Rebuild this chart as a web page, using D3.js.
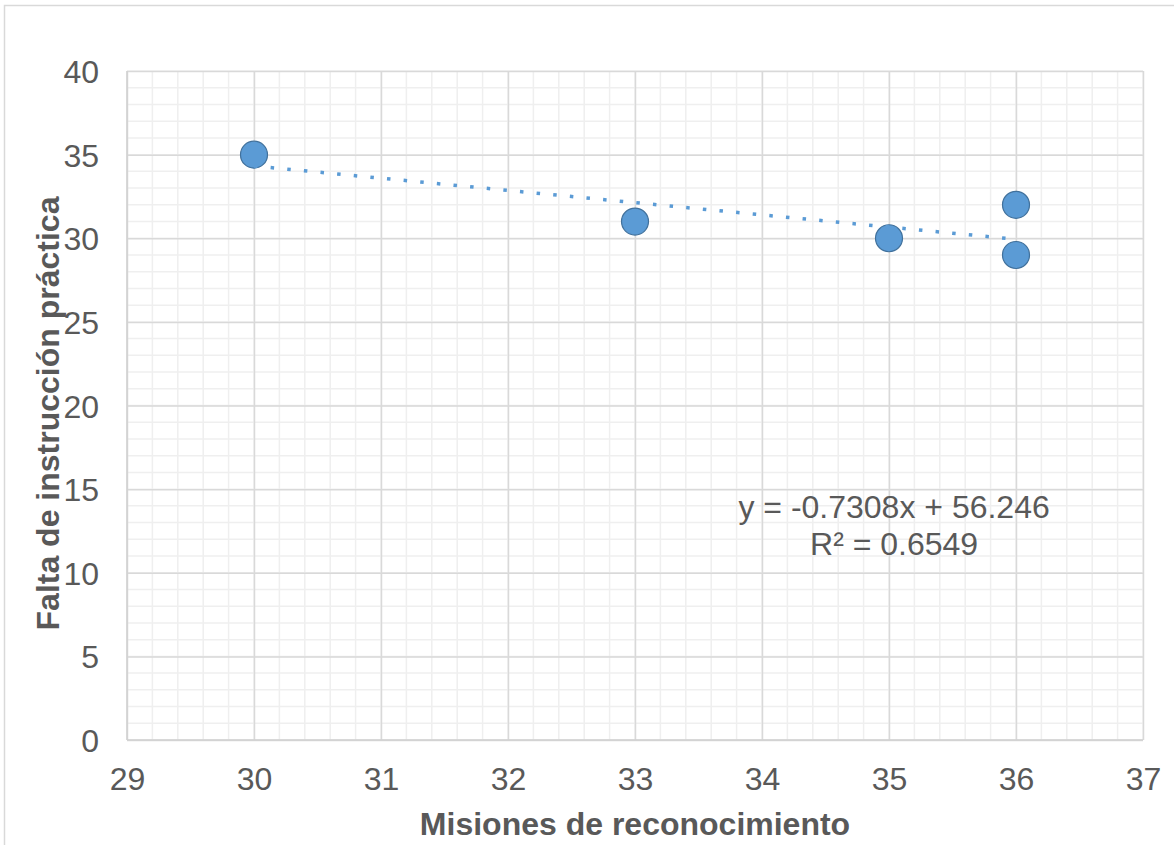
<!DOCTYPE html>
<html>
<head>
<meta charset="utf-8">
<script src="https://cdn.jsdelivr.net/npm/d3@7"></script>
<style>
  body { margin: 0; background: #fff; }
  text { font-family: "Liberation Sans", Arial, sans-serif; fill: #595959; }
</style>
</head>
<body>
<div id="chart"></div>
<script>

// data
var misiones = [30, 33, 35, 36, 36];
var falta = [35, 31, 30, 32, 29];
var xTicks = [29, 30, 31, 32, 33, 34, 35, 36, 37];
var yTicks = [0, 5, 10, 15, 20, 25, 30, 35, 40];
var trendSlope = -0.7308, trendIntercept = 56.246;
var trendLabel = ["y = -0.7308x + 56.246", "R² = 0.6549"];

var margin = { top: 71, right: 31, bottom: 105, left: 127 };
var width = 1174 - margin.left - margin.right;
var height = 845 - margin.top - margin.bottom;

var svg = d3.select("#chart").append("svg")
  .attr("width", 1174)
  .attr("height", 845);

// outer chart border
svg.append("rect")
  .attr("x", 4.5).attr("y", 5.5)
  .attr("width", 1180).attr("height", 860)
  .attr("fill", "none")
  .attr("stroke", "#d9d9d9")
  .attr("stroke-width", 1.5);

var g = svg.append("g")
  .attr("transform", "translate(" + margin.left + "," + margin.top + ")");

var x = d3.scaleLinear().domain([29, 37]).range([0, width]);
var y = d3.scaleLinear().domain([0, 40]).range([height, 0]);

// minor grid
var xMinor = d3.range(29, 37.001, 0.2);
var yMinor = d3.range(0, 40.001, 1);
g.append("g").selectAll("line").data(xMinor).enter().append("line")
  .attr("x1", function(d) { return x(d); }).attr("x2", function(d) { return x(d); })
  .attr("y1", 0).attr("y2", height)
  .attr("stroke", "#efefef").attr("stroke-width", 1.5);
g.append("g").selectAll("line").data(yMinor).enter().append("line")
  .attr("y1", function(d) { return y(d); }).attr("y2", function(d) { return y(d); })
  .attr("x1", 0).attr("x2", width)
  .attr("stroke", "#efefef").attr("stroke-width", 1.5);

// major grid
g.append("g")
  .attr("transform", "translate(0," + height + ")")
  .call(d3.axisBottom(x).tickValues(xTicks).tickSize(-height).tickFormat(""))
  .call(function(s) { s.select(".domain").remove(); })
  .selectAll("line").attr("stroke", "#d9d9d9").attr("stroke-width", 1.5);
g.append("g")
  .call(d3.axisLeft(y).tickValues(yTicks).tickSize(-width).tickFormat(""))
  .call(function(s) { s.select(".domain").remove(); })
  .selectAll("line").attr("stroke", "#d9d9d9").attr("stroke-width", 1.5);

// axis lines
g.append("line").attr("x1", 0).attr("x2", 0).attr("y1", 0).attr("y2", height)
  .attr("stroke", "#d0d0d0").attr("stroke-width", 1.5);
g.append("line").attr("x1", 0).attr("x2", width).attr("y1", height).attr("y2", height)
  .attr("stroke", "#d0d0d0").attr("stroke-width", 1.5);

// tick labels
var xAxis = g.append("g")
  .attr("transform", "translate(0," + height + ")")
  .call(d3.axisBottom(x).tickValues(xTicks).tickSize(0).tickPadding(0));
xAxis.select(".domain").remove();
xAxis.selectAll("text")
  .attr("y", 50).attr("dy", null)
  .style("font-size", "32px").style("font-family", "Liberation Sans, Arial, sans-serif")
  .attr("fill", "#595959");

var yAxis = g.append("g")
  .call(d3.axisLeft(y).tickValues(yTicks).tickSize(0).tickPadding(28));
yAxis.select(".domain").remove();
yAxis.selectAll("text")
  .attr("dy", "0.36em")
  .style("font-size", "32px").style("font-family", "Liberation Sans, Arial, sans-serif")
  .attr("fill", "#595959");

// points
g.selectAll("circle")
  .data(misiones)
  .enter()
  .append("circle")
  .attr("cx", function(d) { return x(d); })
  .attr("cy", function(d, i) { return y(falta[i]); })
  .attr("r", 13.5)
  .attr("fill", "#5b9bd5")
  .attr("stroke", "#41719c")
  .attr("stroke-width", 1.2);

// linear trendline
var x0 = d3.min(misiones), x1 = d3.max(misiones);
g.append("line")
  .attr("x1", x(x0)).attr("y1", y(trendSlope * x0 + trendIntercept))
  .attr("x2", x(x1)).attr("y2", y(trendSlope * x1 + trendIntercept))
  .attr("stroke", "#5b9bd5")
  .attr("stroke-width", 3.5)
  .attr("stroke-dasharray", "3.5,13.2");

// equation label
g.append("text")
  .attr("x", x(35.04)).attr("y", y(13.25))
  .attr("text-anchor", "middle")
  .style("font-size", "32px")
  .selectAll("tspan").data(trendLabel).enter().append("tspan")
  .attr("x", x(35.04))
  .attr("dy", function(d, i) { return i == 0 ? 0 : 37; })
  .text(function(d) { return d; });

// axis titles
svg.append("text")
  .attr("x", margin.left + width / 2)
  .attr("y", 835)
  .attr("text-anchor", "middle")
  .style("font-size", "32px")
  .style("font-weight", "bold")
  .text("Misiones de reconocimiento");

svg.append("text")
  .attr("transform", "translate(59," + (margin.top + height / 2 + 8) + ") rotate(-90)")
  .attr("text-anchor", "middle")
  .style("font-size", "32px")
  .style("font-weight", "bold")
  .text("Falta de instrucción práctica");

</script>
</body>
</html>
